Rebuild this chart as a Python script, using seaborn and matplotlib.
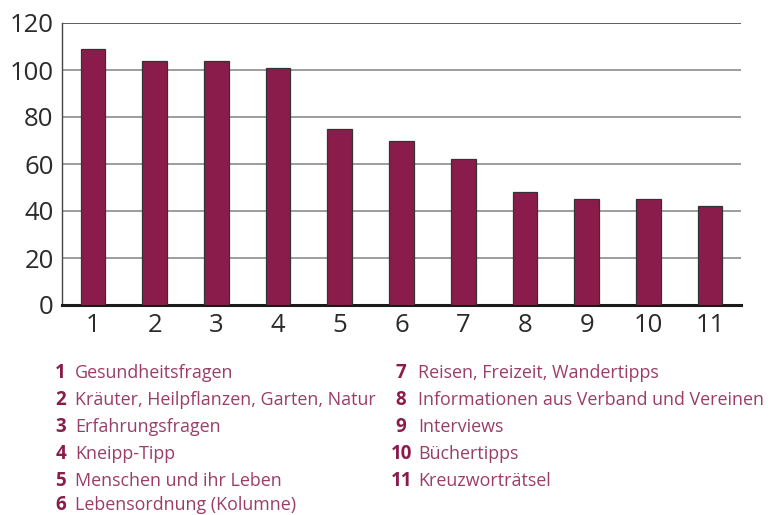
import matplotlib
matplotlib.use("Agg")
import matplotlib.pyplot as plt
import seaborn as sns
import pandas as pd

categories = ["1", "2", "3", "4", "5", "6", "7", "8", "9", "10", "11"]
values = [109, 104, 104, 101, 75, 70, 62, 48, 45, 45, 42]
labels = [
    "Gesundheitsfragen",
    "Kräuter, Heilpflanzen, Garten, Natur",
    "Erfahrungsfragen",
    "Kneipp-Tipp",
    "Menschen und ihr Leben",
    "Lebensordnung (Kolumne)",
    "Reisen, Freizeit, Wandertipps",
    "Informationen aus Verband und Vereinen",
    "Interviews",
    "Büchertipps",
    "Kreuzworträtsel",
]
yticks = [0, 20, 40, 60, 80, 100, 120]

sns.set_theme(style="white")
plt.rcParams['font.family'] = ['Open Sans', 'DejaVu Sans']

bar_color = "#8a1c4b"
num_color = "#8a1c4b"
txt_color = "#9a3d68"

df = pd.DataFrame({"cat": categories, "val": values})

fig = plt.figure(figsize=(7.7, 5.15), dpi=100)
ax = fig.add_axes([62/770, 1-305/515, (741-62)/770, (305-23)/515])
sns.barplot(data=df, x="cat", y="val", color=bar_color, width=0.4,
            edgecolor="#333333", linewidth=0.9, saturation=1, ax=ax, zorder=3)
ax.set_xlim(-0.5, len(categories) - 0.5)
ax.set_ylim(0, 120)
ax.set_yticks(yticks)
ax.set_xlabel("")
ax.set_ylabel("")
for y in yticks[1:]:
    ax.axhline(y, color="#8c8c8c" if y < 120 else "#444444", lw=1.2, zorder=1)
for s in ["top", "right"]:
    ax.spines[s].set_visible(False)
ax.spines["left"].set_color("#444444")
ax.spines["left"].set_linewidth(1.0)
ax.spines["bottom"].set_color("#1a1a1a")
ax.spines["bottom"].set_linewidth(2.2)
ax.tick_params(axis="both", length=0, labelsize=18.5, colors="#2b2b2b")
ax.tick_params(axis="y", pad=6)
ax.tick_params(axis="x", pad=6)

row_y = [373, 400, 427, 454, 481, 505]
for i, (num, lab) in enumerate(zip(categories, labels)):
    if i < 6:
        nx, tx, yy = 66, 75, row_y[i]
    else:
        nx = 412 if len(num) > 1 else 406
        tx, yy = 418, row_y[i - 6]
    fig.text(nx/770, 1-yy/515, num, ha="right", va="center", fontsize=13.5,
             fontweight="bold", color=num_color)
    fig.text(tx/770, 1-yy/515, lab, ha="left", va="center", fontsize=12.9,
             color=txt_color)

fig.savefig("out.png", dpi=100)
